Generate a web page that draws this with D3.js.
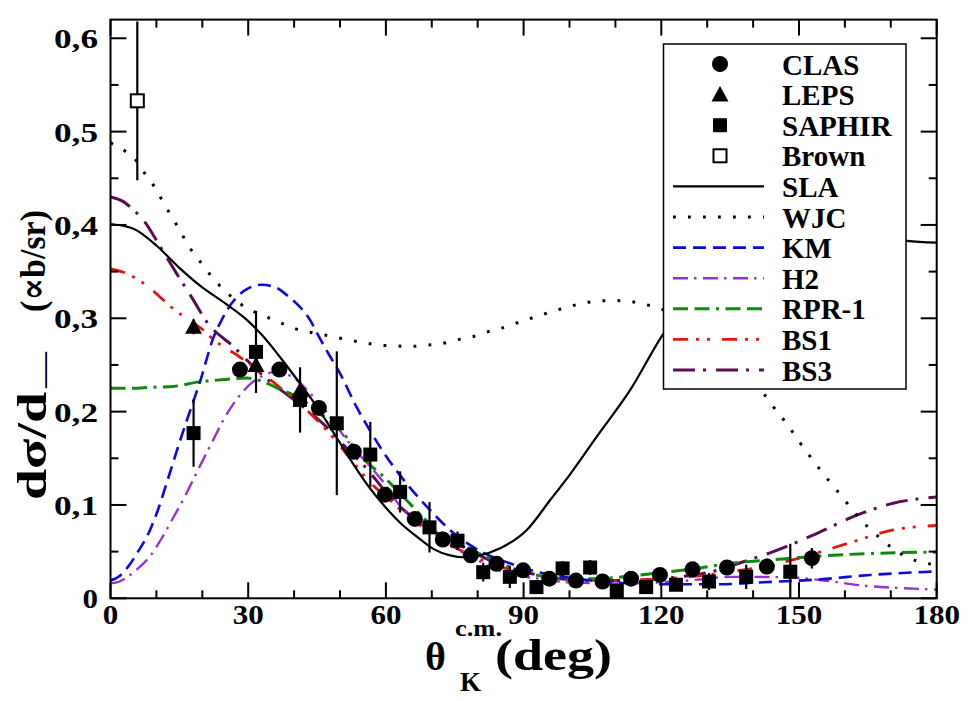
<!DOCTYPE html>
<html><head><meta charset="utf-8">
<script src="https://cdn.jsdelivr.net/npm/d3@7/dist/d3.min.js"></script>
<style>body{margin:0;background:#fff}svg{display:block}
svg text{font-family:"Liberation Serif","LiberationSerif","Times New Roman",Times,"DejaVu Serif","Noto Serif",Georgia,serif;font-weight:700}</style>
</head><body><svg id="c" width="979" height="701"></svg>
<script>
// ---------- data ----------
const xTicks = [0,30,60,90,120,150,180];
const yTicks = [0,0.1,0.2,0.3,0.4,0.5,0.6];
const yTickLabels = ["0","0,1","0,2","0,3","0,4","0,5","0,6"];

const clasTheta = [28.2,36.8,45.4,53.0,59.8,66.3,72.4,78.5,84.1,89.9,95.6,101.4,107.2,113.4,119.7,126.8,134.3,143.0,152.8];
const clasValue = [0.245,0.245,0.204,0.157,0.111,0.085,0.063,0.046,0.037,0.030,0.021,0.019,0.018,0.021,0.025,0.031,0.033,0.034,0.043];
const clasError = [0.004,0.004,0.004,0.004,0.004,0.004,0.003,0.003,0.003,0.003,0.003,0.003,0.003,0.003,0.003,0.004,0.004,0.005,0.011];

const lepsTheta = [18.1,31.7,41.3];
const lepsValue = [0.291,0.250,0.223];
const lepsError = [0.008,0.010,0.010];

const saphirTheta = [18.1,31.7,41.3,49.3,56.6,63.1,69.5,75.6,81.2,87.0,92.8,98.5,104.5,110.3,116.7,123.2,130.4,138.5,148.1];
const saphirValue = [0.177,0.264,0.2125,0.1875,0.154,0.114,0.076,0.0617,0.028,0.023,0.012,0.032,0.033,0.008,0.012,0.0145,0.018,0.023,0.0285];
const saphirError = [0.036,0.044,0.035,0.077,0.035,0.022,0.027,0.010,0.010,0.012,0.007,0.008,0.008,0.006,0.006,0.006,0.009,0.013,0.030];

const brownTheta = [5.84];
const brownValue = [0.533];
const brownError = [0.085];

const slaCurve = [[0,0.401],[5,0.396],[10,0.378],[15,0.354],[20,0.333],[25,0.316],[30,0.297],[33,0.282],[37,0.258],[41.3,0.230],[45,0.205],[49.3,0.172],[53,0.143],[56.5,0.118],[60,0.097],[63.1,0.081],[67,0.065],[70.3,0.053],[74,0.046],[77,0.044],[80,0.0455],[84.9,0.0536],[90.7,0.0732],[95.8,0.1053],[100,0.132],[105.9,0.173],[113.2,0.223],[120.4,0.283],[130,0.34],[140,0.375],[150,0.39],[160,0.392],[170,0.386],[173.5,0.383],[180,0.381]];
const wjcCurve = [[0,0.488],[3.2,0.479],[5.6,0.469],[7.5,0.455],[9.3,0.443],[11,0.4286],[12.6,0.415],[14.3,0.401],[15.9,0.387],[17.5,0.374],[19.5,0.361],[21.5,0.348],[23.6,0.336],[25.9,0.325],[28.4,0.315],[31.3,0.307],[34.2,0.301],[37.1,0.295],[40.2,0.289],[43.5,0.285],[46.7,0.282],[49.8,0.279],[55,0.274],[59.4,0.271],[65.8,0.270],[69.1,0.2714],[72.3,0.273],[75.6,0.277],[78.7,0.280],[81.8,0.285],[84.9,0.289],[87.9,0.294],[91,0.299],[94.1,0.304],[97.2,0.3086],[100.3,0.313],[103.5,0.3167],[106.6,0.3186],[109.9,0.319],[113.2,0.318],[116.3,0.315],[119.4,0.311],[125,0.298],[130,0.280],[135,0.257],[140,0.233],[141.9,0.222],[143.8,0.209],[145.9,0.196],[147.8,0.184],[149.6,0.171],[151.5,0.158],[157.5,0.120],[159.5,0.108],[161.6,0.095],[163.7,0.083],[166,0.072],[168.4,0.0614],[170.9,0.0518],[173.8,0.0435],[176.7,0.0386],[180,0.036]];
const kmCurve = [[0,0.019],[2,0.024],[4,0.035],[6,0.050],[8.6,0.073],[10.5,0.097],[12.2,0.123],[14,0.151],[15.9,0.180],[18.4,0.216],[19.5,0.232],[22.4,0.279],[24.2,0.298],[26.4,0.316],[28,0.325],[30,0.332],[32.9,0.336],[36,0.333],[39.1,0.322],[41.5,0.311],[43.5,0.298],[45,0.284],[47.5,0.262],[50,0.241],[53.6,0.205],[56.5,0.180],[59.4,0.157],[64.5,0.123],[69.6,0.0946],[74,0.073],[81.2,0.0489],[87,0.0375],[92.9,0.0285],[100,0.022],[110,0.017],[120,0.015],[132.8,0.015],[140,0.0167],[154.6,0.0203],[165.5,0.025],[180,0.0288]];
const h2Curve = [[0,0.016],[2,0.018],[4,0.024],[6,0.032],[8.6,0.045],[11,0.063],[13.5,0.085],[16.2,0.109],[19.1,0.138],[22,0.166],[25,0.1946],[28.6,0.220],[30.8,0.231],[33,0.238],[35,0.242],[36.9,0.243],[38.5,0.240],[40.6,0.234],[43,0.222],[45.6,0.209],[48.5,0.190],[51.5,0.1696],[54.4,0.153],[59.1,0.1267],[63.8,0.0946],[68.5,0.0767],[74.7,0.0553],[81.3,0.0375],[86.3,0.0268],[92.9,0.0214],[100,0.017],[110,0.016],[120,0.017],[128,0.020],[135,0.023],[147.3,0.0225],[154.6,0.0196],[164.8,0.0132],[172,0.011],[180,0.0093]];
const rprCurve = [[0,0.225],[5,0.225],[8.6,0.226],[13.7,0.227],[19.5,0.232],[21.7,0.233],[26,0.235],[29.7,0.236],[33.3,0.232],[36.9,0.224],[40.6,0.216],[45.6,0.198],[50.7,0.177],[53.6,0.158],[56.5,0.143],[58.7,0.134],[64.5,0.105],[70.3,0.0767],[76.1,0.0589],[83.4,0.041],[89.9,0.0285],[95,0.023],[100,0.021],[105,0.021],[113.4,0.0239],[119.7,0.0274],[127.7,0.032],[135,0.0375],[143.7,0.041],[154.6,0.0453],[165.5,0.048],[180,0.0495]];
const bs1Curve = [[0,0.353],[3.5,0.348],[7.2,0.3375],[11.5,0.3196],[13,0.313],[18,0.295],[20.2,0.2875],[22,0.279],[27.5,0.2607],[32.6,0.2428],[37.6,0.223],[42.7,0.2018],[47.1,0.180],[52.2,0.150],[56,0.127],[60.9,0.105],[64.5,0.089],[68.9,0.0732],[73,0.060],[77.6,0.0482],[84.9,0.0339],[91.4,0.0268],[97,0.022],[103,0.0195],[110,0.019],[117,0.020],[124,0.022],[130,0.025],[136,0.029],[142.3,0.0339],[152.4,0.0464],[161.8,0.0607],[170.5,0.0732],[180,0.078]];
const bs3Curve = [[0,0.430],[2.8,0.425],[5,0.416],[7.2,0.405],[10.8,0.377],[14.4,0.348],[18,0.320],[21,0.296],[26.8,0.2696],[31.9,0.2446],[36.2,0.2267],[42,0.205],[47.8,0.180],[51,0.163],[55.1,0.1428],[60.9,0.109],[64.5,0.092],[68.9,0.0767],[76.1,0.0571],[83.4,0.0392],[91.4,0.0268],[98,0.021],[105,0.019],[112,0.019],[120,0.021],[127,0.025],[133,0.031],[137.9,0.0392],[144.4,0.050],[153.1,0.0678],[161.8,0.0874],[170.5,0.1018],[180,0.1085]];

const curveNames = ["SLA","WJC","KM","H2","RPR-1","BS1","BS3"];
const curveColors = ["#000000","#000000","#0a0adc","#9a30d0","#0c8a0c","#e8140c","#5c0c50"];
const curveDashes = ["none","2.8 12.2","13 7","15 6 2.5 6.5","15 6.5 15 6.5 3 6.5","15 8 3 8 3 12","22 8 3 10"];
const curveWidths = [2.2,3,2.6,2.4,3,2.8,3];
const curveData = [slaCurve,wjcCurve,kmCurve,h2Curve,rprCurve,bs1Curve,bs3Curve];
const dataNames = ["CLAS","LEPS","SAPHIR","Brown"];

// ---------- layout ----------
const L=110.5, R=936.7, T=19.6, B=598.3;
const svg = d3.select("#c");
svg.append("rect").attr("width",979).attr("height",701).attr("fill","#fff");
const x = d3.scaleLinear().domain([0,180]).range([L,R]);
const y = d3.scaleLinear().domain([0,0.62]).range([B,T]);

svg.append("defs").append("clipPath").attr("id","clip").append("rect")
  .attr("x",L).attr("y",T).attr("width",R-L).attr("height",B-T);

const plot = svg.append("g").attr("clip-path","url(#clip)");
const line = d3.line().x(d=>x(d[0])).y(d=>y(d[1])).curve(d3.curveMonotoneX);

const order = [6,5,4,3,2,1,0];
order.forEach(i=>{
  plot.append("path").datum(curveData[i]).attr("d",line)
   .attr("fill","none").attr("stroke",curveColors[i])
   .attr("stroke-width",curveWidths[i])
   .attr("stroke-dasharray",curveDashes[i]==="none"?null:curveDashes[i]);
});

function errBars(th,v,e){
  plot.append("g").selectAll("line").data(th).join("line")
   .attr("x1",(d)=>x(d)).attr("x2",(d)=>x(d))
   .attr("y1",(d,i)=>y(v[i]-e[i])).attr("y2",(d,i)=>y(v[i]+e[i]))
   .attr("stroke","#000").attr("stroke-width",2.2);
}
errBars(saphirTheta,saphirValue,saphirError);
errBars(lepsTheta,lepsValue,lepsError);
errBars(clasTheta,clasValue,clasError);
errBars(brownTheta,brownValue,brownError);

const sym = {
  CLAS:(g,cx,cy)=>g.append("circle").attr("cx",cx).attr("cy",cy).attr("r",8).attr("fill","#000"),
  LEPS:(g,cx,cy)=>g.append("path").attr("d",`M${cx},${cy-8.5}L${cx+8.5},${cy+7}L${cx-8.5},${cy+7}Z`).attr("fill","#000"),
  SAPHIR:(g,cx,cy)=>g.append("rect").attr("x",cx-7).attr("y",cy-7).attr("width",14).attr("height",14).attr("fill","#000"),
  Brown:(g,cx,cy)=>g.append("rect").attr("x",cx-6.5).attr("y",cy-6.5).attr("width",13).attr("height",13).attr("fill","#fff").attr("stroke","#000").attr("stroke-width",2)
};
const sg = plot.append("g");
saphirTheta.forEach((t,i)=>sym.SAPHIR(sg,x(t),y(saphirValue[i])));
lepsTheta.forEach((t,i)=>sym.LEPS(sg,x(t),y(lepsValue[i])));
clasTheta.forEach((t,i)=>sym.CLAS(sg,x(t),y(clasValue[i])));
brownTheta.forEach((t,i)=>sym.Brown(sg,x(t),y(brownValue[i])));

function txt(parent){ return parent.append("text"); }
function fit(sel,len){ return sel.attr("textLength",len).attr("lengthAdjust","spacingAndGlyphs"); }

// ---------- axes ----------
const fr = svg.append("g");
fr.append("rect").attr("x",L).attr("y",T).attr("width",R-L).attr("height",B-T)
  .attr("fill","none").attr("stroke","#000").attr("stroke-width",2);
const xMinor = d3.range(0,181,10), yMinor = d3.range(0,0.6001,0.05);
const tk = fr.append("g").attr("stroke","#000").attr("stroke-width",2);
xMinor.forEach(v=>{
  const len = (v%30===0)?16:8;
  tk.append("line").attr("x1",x(v)).attr("x2",x(v)).attr("y1",B).attr("y2",B-len);
  tk.append("line").attr("x1",x(v)).attr("x2",x(v)).attr("y1",T).attr("y2",T+len);
});
yMinor.forEach((v,i)=>{
  const len = (i%2===0)?16:8;
  tk.append("line").attr("x1",L).attr("x2",L+len).attr("y1",y(v)).attr("y2",y(v));
  tk.append("line").attr("x1",R).attr("x2",R-len).attr("y1",y(v)).attr("y2",y(v));
});
xTicks.forEach(d=>fit(txt(fr).attr("x",x(d)).attr("y",624).attr("text-anchor","middle").attr("font-size",28).text(d), String(d).length*15.5));
yTicks.forEach((d,i)=>fit(txt(fr).attr("x",98).attr("y",y(d)+10).attr("text-anchor","end").attr("font-size",28).text(yTickLabels[i]), yTickLabels[i].length>1?44:15.5));

// axis titles
txt(svg).attr("x",425).attr("y",670).attr("font-size",40).text("θ");
fit(txt(svg).attr("x",455).attr("y",636).attr("font-size",23).text("c.m."),47);
txt(svg).attr("x",460).attr("y",691).attr("font-size",27).text("K");
fit(txt(svg).attr("x",495).attr("y",670).attr("font-size",44).text("(deg)"),117);

fit(txt(svg).attr("transform","translate(46,500) rotate(-90)").attr("font-size",42).text("dσ/d"),108);
fit(txt(svg).attr("transform","translate(55,388) rotate(-90)").attr("font-size",36)
  .style("font-weight","400").text("—"),36);
fit(txt(svg).attr("transform","translate(45,312) rotate(-90)").attr("font-size",36).text("(∝b/sr)"),102);

// ---------- legend ----------
const lg = svg.append("g");
lg.append("rect").attr("x",663.5).attr("y",44).attr("width",242.5).attr("height",345)
  .attr("fill","#fff").attr("stroke","#000").attr("stroke-width",1.5);
const rowY = i=>64+30.6*i;
dataNames.forEach((n,i)=>{
  sym[n](lg,720,rowY(i));
  txt(lg).attr("x",782).attr("y",rowY(i)+10.5).attr("font-size",29).text(n);
});
curveNames.forEach((n,k)=>{
  const i=k+4;
  lg.append("line").attr("x1",673).attr("x2",764).attr("y1",rowY(i)).attr("y2",rowY(i))
    .attr("stroke",curveColors[k]).attr("stroke-width",curveWidths[k])
    .attr("stroke-dasharray",curveDashes[k]==="none"?null:curveDashes[k]);
  txt(lg).attr("x",782).attr("y",rowY(i)+10.5).attr("font-size",29).text(n);
});
</script></body></html>
